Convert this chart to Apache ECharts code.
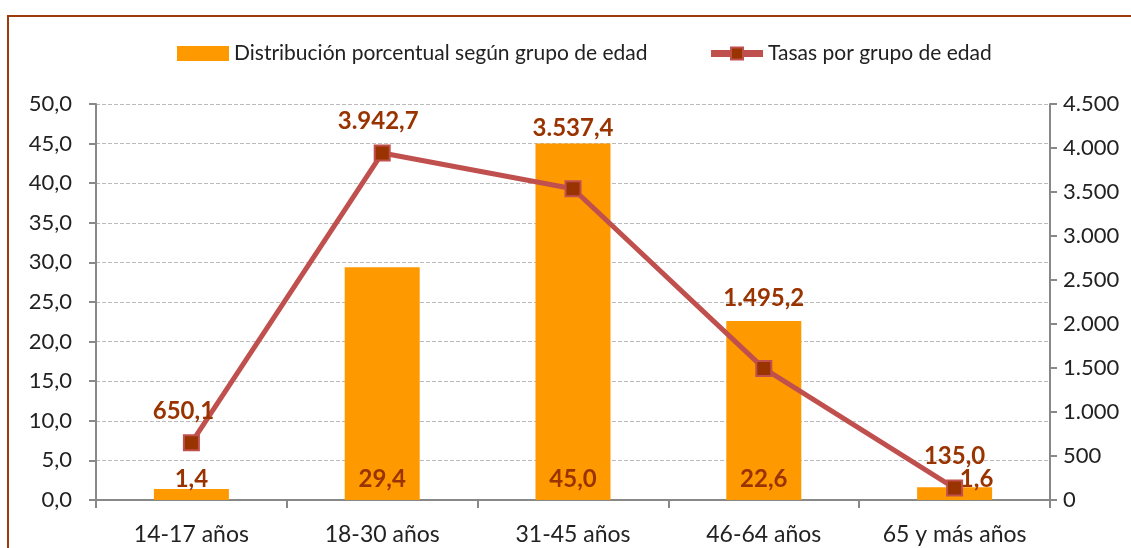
<!DOCTYPE html>
<html>
<head>
<meta charset="utf-8">
<script src="https://cdn.jsdelivr.net/npm/echarts@6/dist/echarts.min.js"></script>
<style>
  html, body { margin: 0; padding: 0; background: #fff; }
  #frame { position: absolute; left: 7px; top: 15px; width: 1130px; height: 540px;
           border-left: 2px solid #9C3B0C; border-top: 2px solid #9C3B0C; }
  #main { position: absolute; left: 0; top: 0; width: 1131px; height: 548px; }
</style>
</head>
<body>
<div id="frame"></div>
<div id="main"></div>
<script>
// datos
var categories = ['14-17 años', '18-30 años', '31-45 años', '46-64 años', '65 y más años'];
var distribucion = [1.4, 29.4, 45.0, 22.6, 1.6];
var tasas = [650.1, 3942.7, 3537.4, 1495.2, 135.0];

var labelColor = '#993300';
var font = 'Lato, "Open Sans", sans-serif';

function fmt(v, dec) {
  var s = v.toFixed(dec).split('.');
  var ent = s[0].replace(/\B(?=(\d{3})+(?!\d))/g, '.');
  return s.length > 1 ? ent + ',' + s[1] : ent;
}

var chart = echarts.init(document.getElementById('main'));

// etiquetas movidas a mano como en el original
var barData = distribucion.map(function (v, i) {
  var item = { value: v };
  if (i === distribucion.length - 1) item.label = { offset: [22, 0] };
  return item;
});
var lineOffsets = [[-8, 0], [-4, 0], [0, -29], [0, -39], [0, 0]];
var lineData = tasas.map(function (v, i) {
  return { value: v, label: { offset: lineOffsets[i] } };
});

var option = {
  animation: false,
  textStyle: { fontFamily: font },
  grid: { left: 96, right: 81, top: 104, bottom: 48 },
  legend: {
    top: 38,
    left: 172,
    itemGap: 60,
    itemWidth: 52,
    itemHeight: 15,
    textStyle: { fontSize: 21, color: '#222', fontFamily: font },
    data: [
      { name: 'Distribución porcentual según grupo de edad', icon: 'rect' },
      { name: 'Tasas por grupo de edad', lineStyle: { width: 7, color: '#C0504D' } }
    ]
  },
  xAxis: {
    type: 'category',
    data: categories,
    axisLine: { lineStyle: { color: '#888', width: 2 } },
    axisTick: { show: true, length: 8, lineStyle: { color: '#888', width: 2 } },
    axisLabel: { fontSize: 23, color: '#222', margin: 23 }
  },
  yAxis: [
    {
      type: 'value',
      min: 0, max: 50, interval: 5,
      axisLine: { show: true, lineStyle: { color: '#888', width: 2 } },
      axisTick: { show: true, length: 7, lineStyle: { color: '#888', width: 2 } },
      axisLabel: { fontSize: 22, color: '#222', margin: 24,
                   formatter: function (v) { return fmt(v, 1); } },
      splitLine: { lineStyle: { color: '#bbb', type: 'dashed', width: 1 } }
    },
    {
      type: 'value',
      min: 0, max: 4500, interval: 500,
      axisLine: { show: true, lineStyle: { color: '#888', width: 2 } },
      axisTick: { show: true, length: 7, lineStyle: { color: '#888', width: 2 } },
      axisLabel: { fontSize: 22, color: '#222', margin: 13,
                   formatter: function (v) { return fmt(v, 0); } },
      splitLine: { show: false }
    }
  ],
  series: [
    {
      name: 'Distribución porcentual según grupo de edad',
      type: 'bar',
      yAxisIndex: 0,
      barWidth: 75,
      data: barData,
      itemStyle: { color: '#FF9900' },
      label: {
        show: true,
        position: 'insideBottom',
        distance: 9,
        fontSize: 24,
        fontWeight: 'bold',
        color: labelColor,
        formatter: function (p) { return fmt(p.value, 1); }
      }
    },
    {
      name: 'Tasas por grupo de edad',
      type: 'line',
      yAxisIndex: 1,
      data: lineData,
      symbol: 'rect',
      symbolSize: 15,
      lineStyle: { color: '#C0504D', width: 5 },
      itemStyle: { color: '#993300', borderColor: '#C0504D', borderWidth: 2 },
      label: {
        show: true,
        position: 'top',
        distance: 11,
        fontSize: 24,
        fontWeight: 'bold',
        color: labelColor,
        formatter: function (p) { return fmt(p.value, 1); }
      },
      z: 3
    }
  ]
};

chart.setOption(option);
</script>
</body>
</html>
